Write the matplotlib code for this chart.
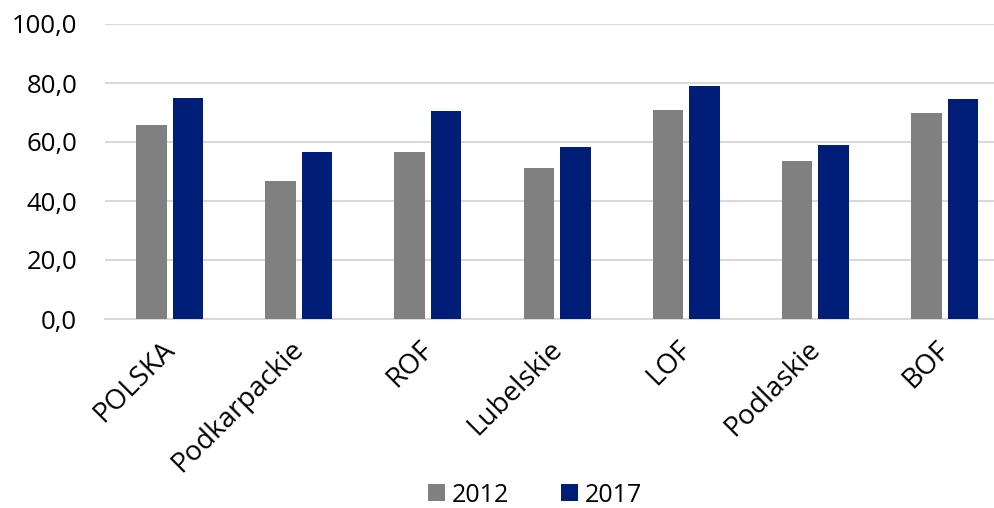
import matplotlib
matplotlib.use("Agg")
import matplotlib.pyplot as plt
import matplotlib.transforms as mtransforms
import numpy as np
from matplotlib.ticker import FuncFormatter

categories = ["POLSKA", "Podkarpackie", "ROF", "Lubelskie", "LOF", "Podlaskie", "BOF"]
series_names = ["2012", "2017"]
values_2012 = [65.8, 46.8, 56.5, 51.3, 70.7, 53.7, 69.9]
values_2017 = [74.8, 56.6, 70.6, 58.2, 79.0, 59.1, 74.6]
y_ticks = [0, 20, 40, 60, 80, 100]

plt.rcParams['font.family'] = ['Open Sans', 'DejaVu Sans']

fig = plt.figure(figsize=(9.94, 5.08), dpi=100)
W, H = 994, 508
ax = fig.add_axes([105 / W, 1 - 319 / H, (994 - 105) / W, (319 - 24) / H])

x = np.arange(len(categories))
bw = 0.236
gap = 0.046
ax.bar(x - (bw + gap) / 2, values_2012, width=bw, color="#808080", label=series_names[0], zorder=3)
ax.bar(x + (bw + gap) / 2, values_2017, width=bw, color="#001E78", label=series_names[1], zorder=3)

ax.set_ylim(0, 100)
ax.set_xlim(-0.5, (994 - 169) / 129.25)
ax.set_yticks(y_ticks)
ax.yaxis.set_major_formatter(FuncFormatter(lambda v, p: f"{v:.1f}".replace(".", ",")))
ax.grid(axis="y", color="#D9D9D9", linewidth=1.5, zorder=0)
for s in ["top", "right", "left"]:
    ax.spines[s].set_visible(False)
ax.spines["bottom"].set_color("#D9D9D9")
ax.spines["bottom"].set_linewidth(1.5)
ax.tick_params(axis="y", length=0, pad=20, labelsize=18.5)
ax.tick_params(axis="x", length=0, pad=19, labelsize=20)
ax.set_xticks(x)
ax.set_xticklabels(categories, rotation=45, ha="right", va="center", rotation_mode="anchor")
offset = mtransforms.ScaledTranslation(1 / 100, 0, fig.dpi_scale_trans)
for lbl in ax.get_xticklabels():
    lbl.set_transform(lbl.get_transform() + offset)

fig.legend(loc="center", bbox_to_anchor=(535 / W, 1 - 495 / H), ncol=2, frameon=False,
           fontsize=18, handlelength=0.68, handleheight=0.68, handletextpad=0.25,
           columnspacing=2.1)

fig.savefig("out.png", dpi=100)
